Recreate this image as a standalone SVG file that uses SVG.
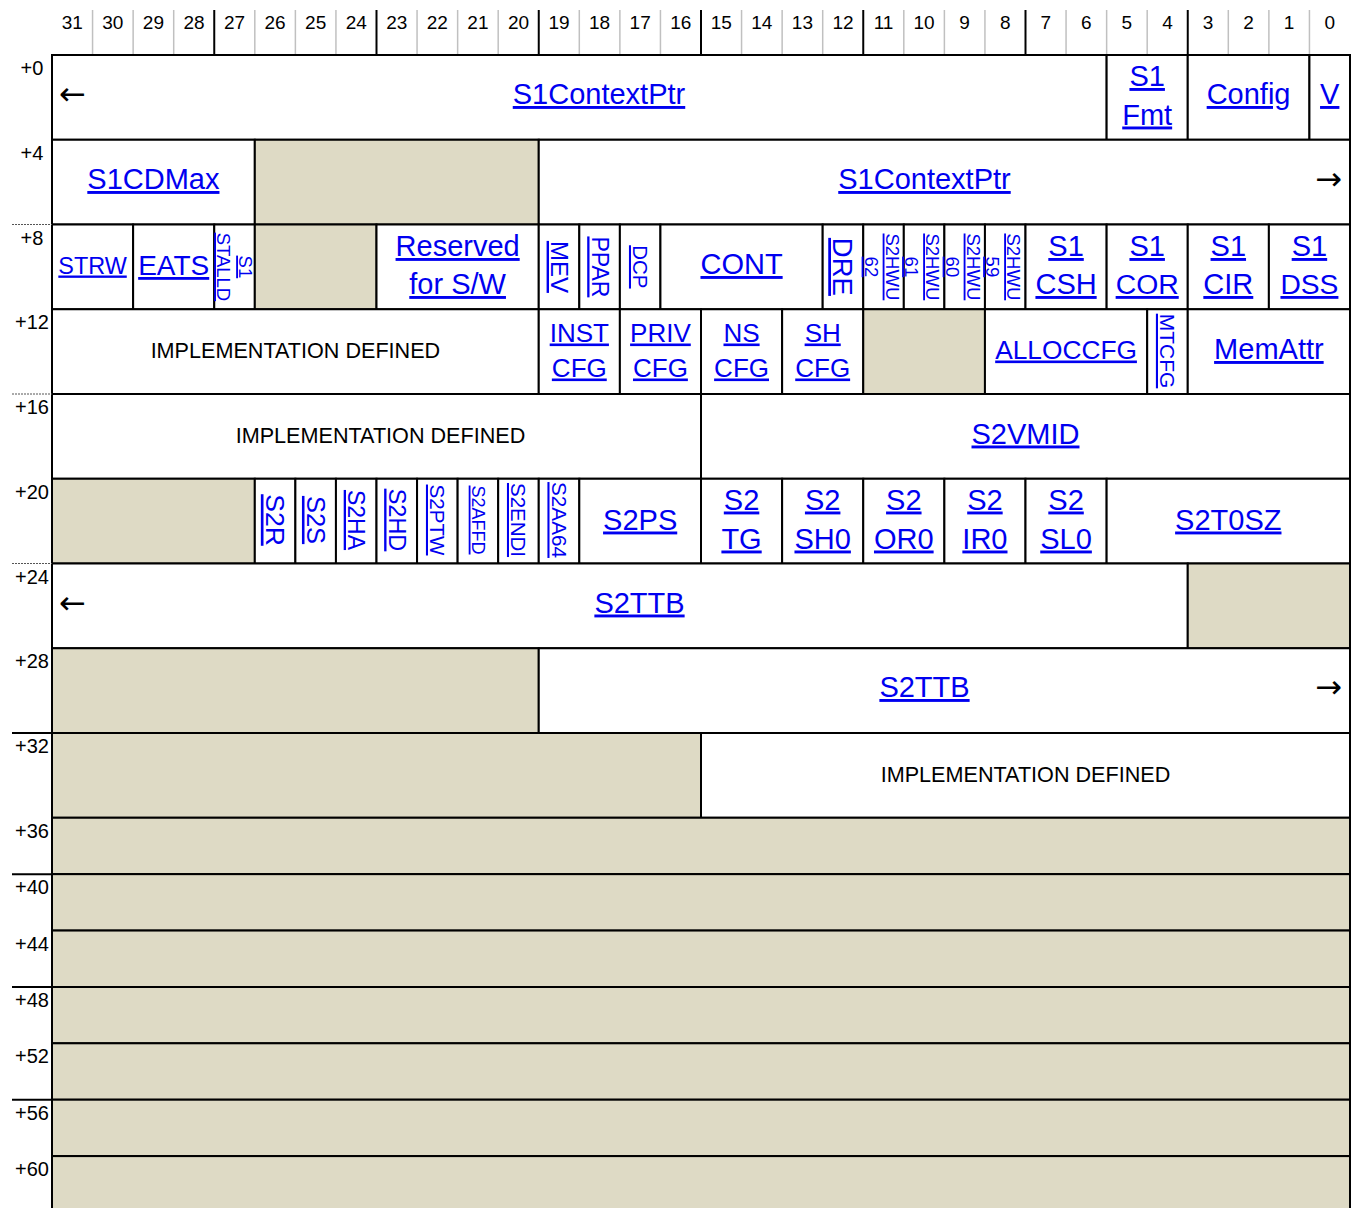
<svg xmlns="http://www.w3.org/2000/svg" width="1354" height="1208" viewBox="0 0 1354 1208">
<style>
text{font-family:"Liberation Sans",Arial,sans-serif}
.f{fill:#fff;stroke:#000;stroke-width:2}
.g{fill:#DEDAC5;stroke:#000;stroke-width:2}
.l{fill:#0000F0;text-decoration:underline;text-anchor:middle;font-size:29px}
.d{fill:#000;text-anchor:middle;font-size:21.6px}
.n{fill:#000;text-anchor:middle;font-size:19px}
.o{fill:#000;text-anchor:middle;font-size:20px}
.a{fill:#000;font-size:32px;font-family:"DejaVu Sans",sans-serif}
.sg{stroke:#c0c0c0;stroke-width:1.5}
.sb{stroke:#000;stroke-width:2}
.dot{stroke:#555;stroke-width:1;stroke-dasharray:2,1}
</style>
<rect width="1354" height="1208" fill="#fff"/>
<g id="header">
<text class="n" x="72.28" y="29">31</text><text class="n" x="112.84" y="29">30</text><text class="n" x="153.41" y="29">29</text><text class="n" x="193.97" y="29">28</text>
<text class="n" x="234.53" y="29">27</text><text class="n" x="275.09" y="29">26</text><text class="n" x="315.66" y="29">25</text><text class="n" x="356.22" y="29">24</text>
<text class="n" x="396.78" y="29">23</text><text class="n" x="437.34" y="29">22</text><text class="n" x="477.91" y="29">21</text><text class="n" x="518.47" y="29">20</text>
<text class="n" x="559.03" y="29">19</text><text class="n" x="599.59" y="29">18</text><text class="n" x="640.16" y="29">17</text><text class="n" x="680.72" y="29">16</text>
<text class="n" x="721.28" y="29">15</text><text class="n" x="761.84" y="29">14</text><text class="n" x="802.41" y="29">13</text><text class="n" x="842.97" y="29">12</text>
<text class="n" x="883.53" y="29">11</text><text class="n" x="924.09" y="29">10</text><text class="n" x="964.66" y="29">9</text><text class="n" x="1005.22" y="29">8</text>
<text class="n" x="1045.78" y="29">7</text><text class="n" x="1086.34" y="29">6</text><text class="n" x="1126.91" y="29">5</text><text class="n" x="1167.47" y="29">4</text>
<text class="n" x="1208.03" y="29">3</text><text class="n" x="1248.59" y="29">2</text><text class="n" x="1289.16" y="29">1</text><text class="n" x="1329.72" y="29">0</text>
<g class="sg">
<line x1="92.56" y1="10" x2="92.56" y2="55"/><line x1="133.13" y1="10" x2="133.13" y2="55"/><line x1="173.69" y1="10" x2="173.69" y2="55"/>
<line x1="254.81" y1="10" x2="254.81" y2="55"/><line x1="295.38" y1="10" x2="295.38" y2="55"/><line x1="335.94" y1="10" x2="335.94" y2="55"/>
<line x1="417.06" y1="10" x2="417.06" y2="55"/><line x1="457.63" y1="10" x2="457.63" y2="55"/><line x1="498.19" y1="10" x2="498.19" y2="55"/>
<line x1="579.31" y1="10" x2="579.31" y2="55"/><line x1="619.88" y1="10" x2="619.88" y2="55"/><line x1="660.44" y1="10" x2="660.44" y2="55"/>
<line x1="741.56" y1="10" x2="741.56" y2="55"/><line x1="782.13" y1="10" x2="782.13" y2="55"/><line x1="822.69" y1="10" x2="822.69" y2="55"/>
<line x1="903.81" y1="10" x2="903.81" y2="55"/><line x1="944.38" y1="10" x2="944.38" y2="55"/><line x1="984.94" y1="10" x2="984.94" y2="55"/>
<line x1="1066.06" y1="10" x2="1066.06" y2="55"/><line x1="1106.63" y1="10" x2="1106.63" y2="55"/><line x1="1147.19" y1="10" x2="1147.19" y2="55"/>
<line x1="1228.31" y1="10" x2="1228.31" y2="55"/><line x1="1268.88" y1="10" x2="1268.88" y2="55"/><line x1="1309.44" y1="10" x2="1309.44" y2="55"/>
</g>
<g class="sb">
<line x1="214.25" y1="10" x2="214.25" y2="55"/><line x1="376.5" y1="10" x2="376.5" y2="55"/><line x1="538.75" y1="10" x2="538.75" y2="55"/>
<line x1="701" y1="10" x2="701" y2="55"/><line x1="863.25" y1="10" x2="863.25" y2="55"/><line x1="1025.5" y1="10" x2="1025.5" y2="55"/>
<line x1="1187.75" y1="10" x2="1187.75" y2="55"/>
</g>
</g>
<g id="offsets">
<text class="o" x="32" y="75">+0</text><text class="o" x="32" y="160">+4</text><text class="o" x="32" y="244.5">+8</text>
<text class="o" x="32" y="329">+12</text><text class="o" x="32" y="414">+16</text><text class="o" x="32" y="499">+20</text>
<text class="o" x="32" y="583.5">+24</text><text class="o" x="32" y="668">+28</text><text class="o" x="32" y="753">+32</text>
<text class="o" x="32" y="838">+36</text><text class="o" x="32" y="894">+40</text><text class="o" x="32" y="951">+44</text>
<text class="o" x="32" y="1007">+48</text><text class="o" x="32" y="1063">+52</text><text class="o" x="32" y="1120">+56</text>
<text class="o" x="32" y="1176">+60</text>
</g>
<g id="row0">
<g id="s1contextptr-lo"><rect class="f" x="52" y="55" width="1054.63" height="84.75"/><text class="a" x="59" y="105">←</text><text class="l" x="599" y="104">S1ContextPtr</text></g>
<g id="s1fmt"><rect class="f" x="1106.63" y="55" width="81.12" height="84.75"/><text class="l" x="1147.19" y="86">S1</text><text class="l" x="1147.19" y="124.5">Fmt</text></g>
<g id="config"><rect class="f" x="1187.75" y="55" width="121.69" height="84.75"/><text class="l" x="1248.6" y="104">Config</text></g>
<g id="v"><rect class="f" x="1309.44" y="55" width="40.56" height="84.75"/><text class="l" x="1329.72" y="104">V</text></g>
</g>
<g id="row4">
<g id="s1cdmax"><rect class="f" x="52" y="139.75" width="202.81" height="84.75"/><text class="l" x="153.4" y="189">S1CDMax</text></g>
<g id="res4"><rect class="g" x="254.81" y="139.75" width="283.94" height="84.75"/></g>
<g id="s1contextptr-hi"><rect class="f" x="538.75" y="139.75" width="811.25" height="84.75"/><text class="l" x="924.5" y="189">S1ContextPtr</text><text class="a" x="1342" y="190" text-anchor="end">→</text></g>
</g>
<g id="row8">
<g id="strw"><rect class="f" x="52" y="224.5" width="81.13" height="84.75"/><text class="l" x="92.56" y="273.5" style="font-size:23.4px">STRW</text></g>
<g id="eats"><rect class="f" x="133.13" y="224.5" width="81.12" height="84.75"/><text class="l" x="173.69" y="275" style="font-size:28px">EATS</text></g>
<g id="s1stalld"><rect class="f" x="214.25" y="224.5" width="40.56" height="84.75"/>
<text class="l" style="font-size:18.5px" transform="translate(239 266.9) rotate(90)">S1</text>
<text class="l" style="font-size:18.5px" transform="translate(217 266.9) rotate(90)">STALLD</text></g>
<g id="res8"><rect class="g" x="254.81" y="224.5" width="121.69" height="84.75"/></g>
<g id="resforsw"><rect class="f" x="376.5" y="224.5" width="162.25" height="84.75"/><text class="l" x="457.63" y="256">Reserved</text><text class="l" x="457.63" y="294">for S/W</text></g>
<g id="mev"><rect class="f" x="538.75" y="224.5" width="40.56" height="84.75"/><text class="l" style="font-size:24px" transform="translate(551 266.9) rotate(90)">MEV</text></g>
<g id="ppar"><rect class="f" x="579.31" y="224.5" width="40.57" height="84.75"/><text class="l" style="font-size:23px" transform="translate(591.5 266.9) rotate(90)">PPAR</text></g>
<g id="dcp"><rect class="f" x="619.88" y="224.5" width="40.56" height="84.75"/><text class="l" style="font-size:20.5px" transform="translate(633 266.9) rotate(90)">DCP</text></g>
<g id="cont"><rect class="f" x="660.44" y="224.5" width="162.25" height="84.75"/><text class="l" x="741.56" y="274">CONT</text></g>
<g id="dre"><rect class="f" x="822.69" y="224.5" width="40.56" height="84.75"/><text class="l" style="font-size:27.5px" transform="translate(833 266.9) rotate(90)">DRE</text></g>
<g id="s2hwu62"><rect class="f" x="863.25" y="224.5" width="40.56" height="84.75"/>
<text class="l" style="font-size:18.5px" transform="translate(885.5 266.9) rotate(90)">S2HWU</text>
<text class="l" style="font-size:18.5px" transform="translate(864.5 266.9) rotate(90)">62</text></g>
<g id="s2hwu61"><rect class="f" x="903.81" y="224.5" width="40.57" height="84.75"/>
<text class="l" style="font-size:18.5px" transform="translate(926 266.9) rotate(90)">S2HWU</text>
<text class="l" style="font-size:18.5px" transform="translate(905 266.9) rotate(90)">61</text></g>
<g id="s2hwu60"><rect class="f" x="944.38" y="224.5" width="40.56" height="84.75"/>
<text class="l" style="font-size:18.5px" transform="translate(966.5 266.9) rotate(90)">S2HWU</text>
<text class="l" style="font-size:18.5px" transform="translate(945.5 266.9) rotate(90)">60</text></g>
<g id="s2hwu59"><rect class="f" x="984.94" y="224.5" width="40.56" height="84.75"/>
<text class="l" style="font-size:18.5px" transform="translate(1007 266.9) rotate(90)">S2HWU</text>
<text class="l" style="font-size:18.5px" transform="translate(986 266.9) rotate(90)">59</text></g>
<g id="s1csh"><rect class="f" x="1025.5" y="224.5" width="81.13" height="84.75"/><text class="l" x="1066.06" y="256">S1</text><text class="l" x="1066.06" y="294">CSH</text></g>
<g id="s1cor"><rect class="f" x="1106.63" y="224.5" width="81.12" height="84.75"/><text class="l" x="1147.19" y="256">S1</text><text class="l" x="1147.19" y="294" style="font-size:28.4px">COR</text></g>
<g id="s1cir"><rect class="f" x="1187.75" y="224.5" width="81.13" height="84.75"/><text class="l" x="1228.31" y="256">S1</text><text class="l" x="1228.31" y="294">CIR</text></g>
<g id="s1dss"><rect class="f" x="1268.88" y="224.5" width="81.12" height="84.75"/><text class="l" x="1309.44" y="256">S1</text><text class="l" x="1309.44" y="294" style="font-size:28.2px">DSS</text></g>
</g>
<g id="row12">
<g id="impdef12"><rect class="f" x="52" y="309.25" width="486.75" height="84.75"/><text class="d" x="295.4" y="357.5">IMPLEMENTATION DEFINED</text></g>
<g id="instcfg"><rect class="f" x="538.75" y="309.25" width="81.13" height="84.75"/><text class="l" style="font-size:26px" x="579.31" y="341.5">INST</text><text class="l" style="font-size:26px" x="579.31" y="376.5">CFG</text></g>
<g id="privcfg"><rect class="f" x="619.88" y="309.25" width="81.12" height="84.75"/><text class="l" style="font-size:26px" x="660.44" y="341.5">PRIV</text><text class="l" style="font-size:26px" x="660.44" y="376.5">CFG</text></g>
<g id="nscfg"><rect class="f" x="701" y="309.25" width="81.13" height="84.75"/><text class="l" style="font-size:26px" x="741.56" y="341.5">NS</text><text class="l" style="font-size:26px" x="741.56" y="376.5">CFG</text></g>
<g id="shcfg"><rect class="f" x="782.13" y="309.25" width="81.12" height="84.75"/><text class="l" style="font-size:26px" x="822.69" y="341.5">SH</text><text class="l" style="font-size:26px" x="822.69" y="376.5">CFG</text></g>
<g id="res12"><rect class="g" x="863.25" y="309.25" width="121.69" height="84.75"/></g>
<g id="alloccfg"><rect class="f" x="984.94" y="309.25" width="162.25" height="84.75"/><text class="l" style="font-size:26.3px" x="1066.06" y="358.5">ALLOCCFG</text></g>
<g id="mtcfg"><rect class="f" x="1147.19" y="309.25" width="40.56" height="84.75"/><text class="l" style="font-size:21px" transform="translate(1160 351) rotate(90)">MTCFG</text></g>
<g id="memattr"><rect class="f" x="1187.75" y="309.25" width="162.25" height="84.75"/><text class="l" x="1268.88" y="359">MemAttr</text></g>
</g>
<g id="row16">
<g id="impdef16"><rect class="f" x="52" y="394" width="649" height="84.75"/><text class="d" x="380.5" y="442.5">IMPLEMENTATION DEFINED</text></g>
<g id="s2vmid"><rect class="f" x="701" y="394" width="649" height="84.75"/><text class="l" x="1025.5" y="443.5">S2VMID</text></g>
</g>
<g id="row20">
<g id="res20"><rect class="g" x="52" y="478.75" width="202.81" height="84.75"/></g>
<g id="s2r"><rect class="f" x="254.81" y="478.75" width="40.57" height="84.75"/><text class="l" style="font-size:26.5px" transform="translate(265.5 520) rotate(90)">S2R</text></g>
<g id="s2s"><rect class="f" x="295.38" y="478.75" width="40.56" height="84.75"/><text class="l" style="font-size:25.5px" transform="translate(306.5 520) rotate(90)">S2S</text></g>
<g id="s2ha"><rect class="f" x="335.94" y="478.75" width="40.56" height="84.75"/><text class="l" style="font-size:23px" transform="translate(348 520) rotate(90)">S2HA</text></g>
<g id="s2hd"><rect class="f" x="376.5" y="478.75" width="40.56" height="84.75"/><text class="l" style="font-size:23.5px" transform="translate(388.5 520) rotate(90)">S2HD</text></g>
<g id="s2ptw"><rect class="f" x="417.06" y="478.75" width="40.57" height="84.75"/><text class="l" style="font-size:20.6px" transform="translate(430 520) rotate(90)">S2PTW</text></g>
<g id="s2affd"><rect class="f" x="457.63" y="478.75" width="40.56" height="84.75"/><text class="l" style="font-size:18px" transform="translate(471.5 520) rotate(90)">S2AFFD</text></g>
<g id="s2endi"><rect class="f" x="498.19" y="478.75" width="40.56" height="84.75"/><text class="l" style="font-size:20.5px" transform="translate(511 520) rotate(90)">S2ENDI</text></g>
<g id="s2aa64"><rect class="f" x="538.75" y="478.75" width="40.56" height="84.75"/><text class="l" style="font-size:20.7px" transform="translate(551.5 520) rotate(90)">S2AA64</text></g>
<g id="s2ps"><rect class="f" x="579.31" y="478.75" width="121.69" height="84.75"/><text class="l" x="640.16" y="529.5">S2PS</text></g>
<g id="s2tg"><rect class="f" x="701" y="478.75" width="81.13" height="84.75"/><text class="l" x="741.56" y="509.5">S2</text><text class="l" x="741.56" y="548.5">TG</text></g>
<g id="s2sh0"><rect class="f" x="782.13" y="478.75" width="81.12" height="84.75"/><text class="l" x="822.69" y="509.5">S2</text><text class="l" x="822.69" y="548.5">SH0</text></g>
<g id="s2or0"><rect class="f" x="863.25" y="478.75" width="81.13" height="84.75"/><text class="l" x="903.81" y="509.5">S2</text><text class="l" x="903.81" y="548.5">OR0</text></g>
<g id="s2ir0"><rect class="f" x="944.38" y="478.75" width="81.12" height="84.75"/><text class="l" x="984.94" y="509.5">S2</text><text class="l" x="984.94" y="548.5">IR0</text></g>
<g id="s2sl0"><rect class="f" x="1025.5" y="478.75" width="81.13" height="84.75"/><text class="l" x="1066.06" y="509.5">S2</text><text class="l" x="1066.06" y="548.5">SL0</text></g>
<g id="s2t0sz"><rect class="f" x="1106.63" y="478.75" width="243.37" height="84.75"/><text class="l" x="1228.31" y="529.5">S2T0SZ</text></g>
</g>
<g id="row24">
<g id="s2ttb-lo"><rect class="f" x="52" y="563.5" width="1135.75" height="84.75"/><text class="a" x="59" y="613.5">←</text><text class="l" x="639.5" y="612.5">S2TTB</text></g>
<g id="res24"><rect class="g" x="1187.75" y="563.5" width="162.25" height="84.75"/></g>
</g>
<g id="row28">
<g id="res28"><rect class="g" x="52" y="648.25" width="486.75" height="84.75"/></g>
<g id="s2ttb-hi"><rect class="f" x="538.75" y="648.25" width="811.25" height="84.75"/><text class="l" x="924.5" y="697">S2TTB</text><text class="a" x="1342" y="698" text-anchor="end">→</text></g>
</g>
<g id="row32">
<g id="res32"><rect class="g" x="52" y="733" width="649" height="84.75"/></g>
<g id="impdef32"><rect class="f" x="701" y="733" width="649" height="84.75"/><text class="d" x="1025.5" y="781.5">IMPLEMENTATION DEFINED</text></g>
</g>
<g id="rows36-60">
<rect id="res36" class="g" x="52" y="817.75" width="1298" height="56.4"/>
<rect id="res40" class="g" x="52" y="874.15" width="1298" height="56.4"/>
<rect id="res44" class="g" x="52" y="930.55" width="1298" height="56.45"/>
<rect id="res48" class="g" x="52" y="987" width="1298" height="56.3"/>
<rect id="res52" class="g" x="52" y="1043.3" width="1298" height="56.4"/>
<rect id="res56" class="g" x="52" y="1099.7" width="1298" height="56.4"/>
<rect id="res60" class="g" x="52" y="1156.1" width="1298" height="60"/>
</g>
<g id="connectors">
<line class="dot" x1="12" y1="224.5" x2="52" y2="224.5"/>
<line class="dot" x1="12" y1="394" x2="52" y2="394"/>
<line class="dot" x1="12" y1="563.5" x2="52" y2="563.5"/>
<line class="sb" x1="12" y1="733" x2="52" y2="733"/>
<line class="sb" x1="12" y1="874.15" x2="52" y2="874.15"/>
<line class="sb" x1="12" y1="987" x2="52" y2="987"/>
<line class="sb" x1="12" y1="1099.7" x2="52" y2="1099.7"/>
</g>
</svg>
